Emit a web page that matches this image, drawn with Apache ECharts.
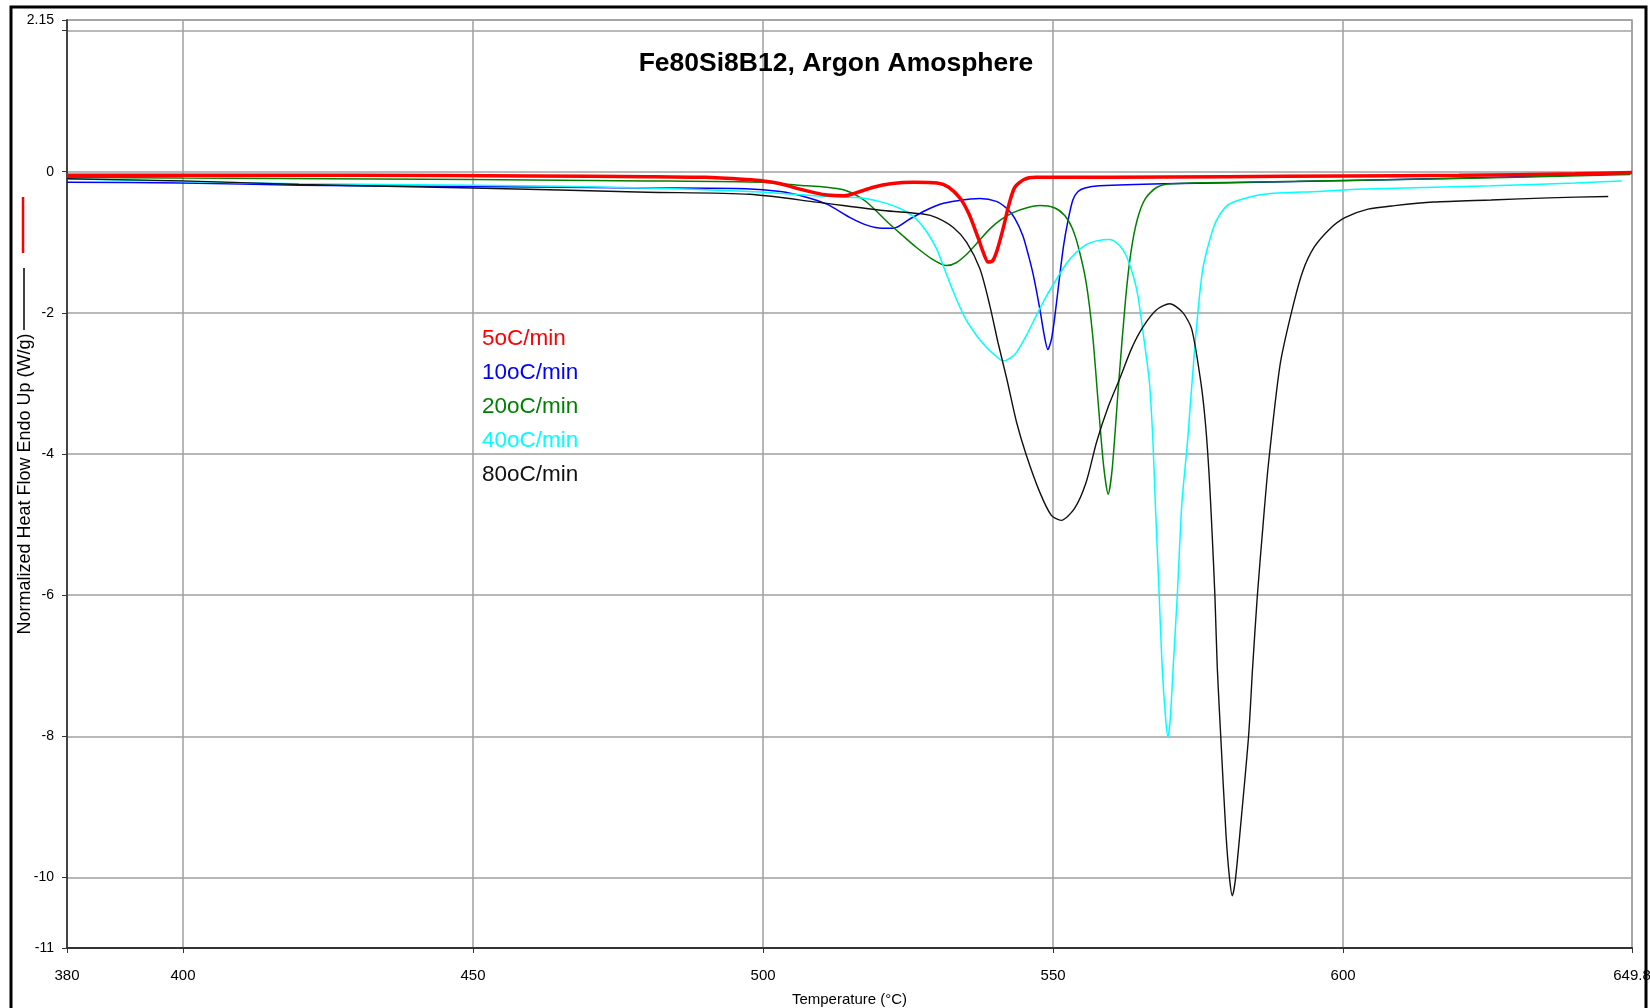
<!DOCTYPE html>
<html>
<head>
<meta charset="utf-8">
<title>Fe80Si8B12 DSC</title>
<script src="https://cdn.jsdelivr.net/npm/echarts@6/dist/echarts.min.js"></script>
<style>
  html, body { margin: 0; padding: 0; background: #fff; }
  #chart { width: 1650px; height: 1008px; }
</style>
</head>
<body>
<div id="chart"></div>
<script>
// ticks and grid values
const tempTicks = [380, 400, 450, 500, 550, 600, 649.8];
const heatLabels = [2.15, 0, -2, -4, -6, -8, -10, -11];
const heatTicks = [2.15, 2, 0, -2, -4, -6, -8, -10, -11];

const rateNames = ['5oC/min', '10oC/min', '20oC/min', '40oC/min', '80oC/min'];
const rateColors = ['#ff0000', '#0000ff', '#008000', '#00ffff', '#111111'];

// [temperature, heat flow]
const rate5 = [[380,-0.05],[400,-0.05],[430,-0.05],[460,-0.06],[480,-0.07],[490,-0.08],[497,-0.11],[500,-0.13],[503,-0.17],[506,-0.24],[509,-0.3],[511,-0.33],[514,-0.34],[516,-0.3],[519,-0.22],[522,-0.17],[526,-0.15],[530,-0.16],[532,-0.22],[534,-0.38],[535.5,-0.6],[537,-0.92],[538,-1.15],[538.8,-1.28],[539.6,-1.26],[540.4,-1.1],[541.4,-0.8],[542.4,-0.46],[543.4,-0.22],[545,-0.11],[547,-0.08],[560,-0.08],[580,-0.07],[600,-0.06],[620,-0.05],[640,-0.03],[649.8,-0.01]];

const rate10 = [[380,-0.15],[400,-0.16],[420,-0.19],[450,-0.21],[480,-0.23],[497,-0.24],[503,-0.28],[507,-0.35],[511,-0.46],[515,-0.65],[518,-0.76],[520.5,-0.8],[522.5,-0.8],[525.3,-0.67],[528,-0.55],[530.5,-0.46],[533.5,-0.41],[537.4,-0.38],[540.2,-0.42],[542,-0.52],[543.4,-0.66],[544.8,-0.91],[545.8,-1.2],[546.6,-1.47],[547.7,-1.94],[548.5,-2.33],[549.1,-2.52],[549.7,-2.38],[550.3,-2.05],[551.1,-1.5],[551.8,-1.05],[552.5,-0.72],[553.4,-0.4],[554.3,-0.28],[555.5,-0.23],[558,-0.2],[569,-0.17],[592,-0.14],[615,-0.1],[630,-0.07],[649.5,-0.03]];

const rate20 = [[380,-0.08],[400,-0.09],[450,-0.11],[480,-0.13],[500,-0.15],[506,-0.19],[511,-0.22],[514,-0.26],[516,-0.33],[518,-0.44],[521.8,-0.74],[524,-0.9],[526.4,-1.07],[529,-1.23],[531.6,-1.33],[533.3,-1.29],[535.1,-1.17],[537,-1.0],[539.1,-0.81],[541,-0.68],[543.1,-0.58],[545.5,-0.51],[547.7,-0.48],[550.2,-0.51],[552,-0.62],[553.3,-0.8],[554.4,-1.08],[555.7,-1.57],[556.8,-2.3],[557.8,-3.3],[558.7,-4.16],[559.5,-4.57],[560.2,-4.2],[561.3,-3.0],[562.5,-1.8],[563.4,-1.15],[564.5,-0.68],[565.9,-0.38],[567.9,-0.22],[570.5,-0.17],[590,-0.14],[610,-0.11],[630,-0.08],[649.5,-0.04]];

const rate40 = [[380,-0.1],[400,-0.14],[420,-0.17],[450,-0.19],[480,-0.23],[497.7,-0.28],[509,-0.34],[516.7,-0.37],[520,-0.42],[522.4,-0.48],[524.5,-0.56],[526.4,-0.67],[528.2,-0.85],[529.9,-1.09],[531.6,-1.45],[533.3,-1.8],[535,-2.1],[536.8,-2.32],[538.3,-2.47],[539.7,-2.58],[541.4,-2.68],[542.6,-2.64],[543.7,-2.56],[545.4,-2.32],[547.1,-2.04],[548.8,-1.77],[550.6,-1.52],[552.3,-1.3],[554,-1.14],[555.8,-1.03],[557.5,-0.98],[559.8,-0.96],[561.5,-1.05],[562.6,-1.19],[563.8,-1.47],[564.6,-1.75],[565.5,-2.27],[566.6,-2.98],[567.2,-3.8],[567.6,-4.66],[568.3,-6.02],[568.8,-7.02],[569.4,-7.75],[569.8,-8.01],[570.2,-7.75],[570.7,-7.02],[571.4,-6.02],[572.2,-4.7],[573.2,-3.8],[574.4,-2.51],[575.8,-1.38],[577.8,-0.76],[579.5,-0.52],[581.1,-0.43],[586.4,-0.32],[595.7,-0.28],[602.3,-0.25],[615.6,-0.22],[625.5,-0.2],[640,-0.16],[648,-0.13]];

const rate80 = [[380,-0.1],[400,-0.13],[420,-0.18],[450,-0.23],[480,-0.29],[497.7,-0.32],[509.2,-0.43],[520.7,-0.55],[527.6,-0.6],[529.9,-0.65],[532.8,-0.79],[535.1,-1.0],[537.4,-1.38],[539.1,-1.9],[540.5,-2.42],[542,-2.93],[543.7,-3.55],[545.4,-4.02],[547.7,-4.54],[549.7,-4.87],[551.4,-4.94],[553.7,-4.77],[555.7,-4.4],[557.5,-3.83],[559.5,-3.33],[561.5,-2.93],[563.5,-2.51],[565.5,-2.2],[567.8,-1.96],[570.1,-1.87],[572.3,-1.99],[573.9,-2.23],[575.5,-3.0],[576.3,-3.6],[576.9,-4.3],[577.4,-5.1],[577.9,-6.02],[578.3,-7.02],[578.9,-8.0],[579.8,-9.38],[580.4,-10.0],[580.9,-10.26],[581.4,-10.05],[582.2,-9.38],[583.7,-8.0],[584.4,-7.02],[585.2,-6.02],[586.2,-5.0],[587.1,-4.16],[589.1,-2.75],[591.1,-1.99],[593,-1.42],[595,-1.07],[597.7,-0.81],[600.3,-0.65],[604.3,-0.53],[608.9,-0.48],[615.6,-0.43],[625.5,-0.4],[635.4,-0.37],[645.7,-0.35]];

const rateData = [rate5, rate10, rate20, rate40, rate80];
const rateWidths = [3.5, 1.5, 1.5, 1.5, 1.4];

const font = "'Liberation Sans', Arial, sans-serif";
const chart = echarts.init(document.getElementById('chart'));

const option = {
    animation: false,
    backgroundColor: '#fff',
    title: {
        text: 'Fe80Si8B12, Argon Amosphere',
        left: 831,
        top: 45,
        textAlign: 'center',
        textStyle: { fontSize: 26.5, fontWeight: 'bold', color: '#000', fontFamily: font }
    },
    legend: {
        orient: 'vertical',
        left: 472,
        top: 322,
        icon: 'none',
        itemWidth: 0,
        itemHeight: 22,
        itemGap: 11,
        selectedMode: false,
        textStyle: { fontSize: 22.5, lineHeight: 22, fontFamily: font },
        data: rateNames.map((n, i) => ({ name: n, textStyle: { color: rateColors[i] } }))
    },
    grid: {
        left: 67,
        right: 18,
        top: 20,
        bottom: 60,
        outerBoundsMode: 'none',
        show: true,
        borderColor: '#a0a0a0',
        borderWidth: 1.5
    },
    xAxis: {
        type: 'value',
        min: 380,
        max: 649.8,
        name: 'Temperature (°C)',
        nameLocation: 'middle',
        nameGap: 44,
        nameTextStyle: { fontSize: 15, color: '#000', fontFamily: font },
        axisLine: { onZero: false, lineStyle: { color: '#333', width: 2 } },
        axisTick: { customValues: tempTicks, length: 5, lineStyle: { color: '#333' } },
        axisLabel: { customValues: tempTicks, margin: 20, fontSize: 15, color: '#000', fontFamily: font },
        splitLine: { show: true, lineStyle: { color: '#a0a0a0', width: 1.5 } }
    },
    yAxis: {
        type: 'value',
        min: -11,
        max: 2.15,
        name: 'Normalized Heat Flow Endo Up (W/g)',
        nameLocation: 'middle',
        nameGap: 33,
        nameMoveOverlap: false,
        nameTextStyle: { fontSize: 18, color: '#000', fontFamily: font },
        axisLine: { show: true, onZero: false, lineStyle: { color: '#444', width: 2 } },
        axisTick: { show: true, customValues: heatTicks, length: 5, lineStyle: { color: '#333' } },
        axisLabel: { customValues: heatLabels, margin: 13, fontSize: 14, color: '#000', fontFamily: font },
        splitLine: { show: true, lineStyle: { color: '#a0a0a0', width: 1.5 } }
    },
    graphic: [
        { type: 'rect', shape: { x: 11, y: 7, width: 1635, height: 1010 }, style: { fill: 'none', stroke: '#000', lineWidth: 3 }, silent: true },
        { type: 'line', shape: { x1: 23, y1: 197, x2: 23, y2: 253 }, style: { stroke: '#ff0000', lineWidth: 2.5 }, silent: true },
        { type: 'line', shape: { x1: 24, y1: 268, x2: 24, y2: 330 }, style: { stroke: '#000', lineWidth: 1.5 }, silent: true }
    ],
    series: rateNames.map((n, i) => ({
        name: n,
        type: 'line',
        data: rateData[i],
        showSymbol: false,
        smooth: 0.25,
        lineStyle: { color: rateColors[i], width: rateWidths[i] },
        itemStyle: { color: rateColors[i] },
        z: i === 0 ? 6 : 2 + i * 0.1
    }))
};

chart.setOption(option);
</script>
</body>
</html>
